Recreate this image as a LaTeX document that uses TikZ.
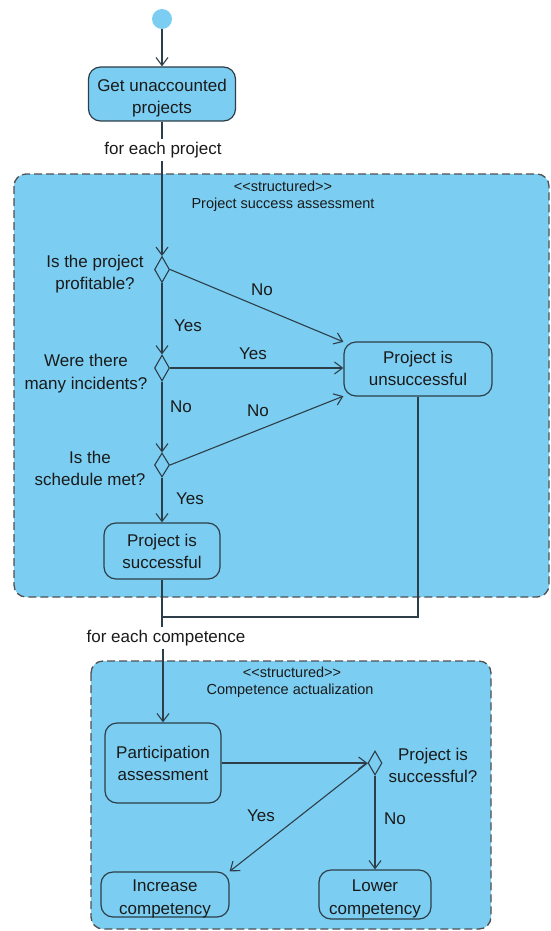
\documentclass[tikz,border=0pt]{standalone}
\usepackage{fontspec}
\setmainfont{Liberation Sans}
\usetikzlibrary{arrows.meta,shapes.geometric}
\definecolor{fillblue}{HTML}{7BCEF2}
\definecolor{ink}{HTML}{2E3E48}
\definecolor{dashc}{HTML}{505050}
\definecolor{txt}{HTML}{1A1A1A}
\newcommand\fsA{\fontsize{17}{22.5}\selectfont}
\newcommand\fsB{\fontsize{14.5}{19}\selectfont}
\newcommand\tb[2][0pt]{\raisebox{#1}[\height][\depth]{\begin{tabular}{@{}c@{}}#2\end{tabular}}}
\begin{document}
\begin{tikzpicture}[x=1pt,y=-1pt,
  act/.style={draw=ink, fill=fillblue, rounded corners=12pt, line width=1.2pt, inner sep=0pt, font=\fsA, text=txt},
  dec/.style={diamond, draw=ink, fill=fillblue, line width=1.1pt, minimum width=15pt, minimum height=26pt, inner sep=0pt},
  flow/.style={draw=ink, line width=1.1pt, -{Straight Barb[length=8pt,width=12pt]}},
  plain/.style={draw=ink, line width=1.1pt},
  lbl/.style={font=\fsA, text=txt, inner sep=1pt, align=center},
  stereo/.style={font=\fsB, text=txt, inner sep=1pt, align=center},
  region/.style={draw=dashc, fill=fillblue, dash pattern=on 8pt off 4pt, rounded corners=12pt, line width=1.3pt}
]
\useasboundingbox (0,0) rectangle (550,931);
% regions
\draw[region] (14,174) rectangle (549,597);
\draw[region] (91,661) rectangle (491,929);
\node[stereo] (st1) at (283,186) {<{}<structured>{}>};
\node[stereo] (rt1) at (283,205) {Project success assessment};
\node[stereo] (st2) at (292,672) {<{}<structured>{}>};
\node[stereo] (rt2) at (290,691) {Competence actualization};
% start
\node[circle, fill=fillblue, minimum size=20pt, inner sep=0pt] (start) at (162,19) {};
% activities
\node[act, minimum width=147pt, minimum height=54pt] (get) at (162,94) {\tb[-4pt]{Get unaccounted\\projects}};
\node[act, minimum width=148pt, minimum height=54pt] (unsucc) at (418,369) {\tb[-1pt]{Project is\\unsuccessful}};
\node[act, minimum width=116pt, minimum height=56pt] (succ) at (162,551) {\tb[-2pt]{Project is\\successful}};
\node[act, minimum width=116pt, minimum height=80pt] (part) at (163,763) {\tb[-2pt]{Participation\\assessment}};
\node[act, minimum width=128pt, minimum height=45pt] (inc) at (165,894.5) {\tb[-4pt]{Increase\\competency}};
\node[act, minimum width=112pt, minimum height=49pt] (lower) at (375,894.5) {\tb[-4pt]{Lower\\competency}};
% decisions
\node[dec] (d1) at (162,269.5) {};
\node[dec] (d2) at (162,368) {};
\node[dec, minimum height=24pt] (d3) at (162,465) {};
\node[dec, minimum width=14pt, minimum height=24pt] (d4) at (375,763) {};
% guard / loop texts
\node[lbl, inner sep=3pt] (fe1) at (163,150) {for each project};
\node[lbl, inner sep=3pt] (fe2) at (166,638) {for each competence};
\node[lbl] (q1) at (95,274) {Is the project\\profitable?};
\node[lbl] (q2) at (86,373.5) {Were there\\many incidents?};
\node[lbl] (q3) at (90,468.5) {Is the\\schedule met?};
\node[lbl] (q4) at (433,765.5) {Project is\\successful?};
\node[lbl] (l1) at (262,289.5) {No};
\node[lbl] (l2) at (188,325.5) {Yes};
\node[lbl] (l3) at (253,353.5) {Yes};
\node[lbl] (l4) at (181,406.5) {No};
\node[lbl] (l5) at (258,410.5) {No};
\node[lbl] (l6) at (190,498.5) {Yes};
\node[lbl] (l7) at (261,815.5) {Yes};
\node[lbl] (l8) at (395,818.5) {No};
% connectors
\draw[flow] (start) -- (get.north);
\draw[plain] (get.south) -- (get.south |- fe1.north);
\draw[flow] (fe1.south -| get.south) -- (d1.north);
\draw[flow] (d1.east) -- (unsucc.160);
\draw[flow] (d2.east) -- (unsucc.west |- d2.east);
\draw[flow] (d3.east) -- (unsucc.200);
\draw[flow] (d1.south) -- (d2.north);
\draw[flow] (d2.south) -- (d3.north);
\draw[flow] (d3.south) -- (succ.north);
\coordinate (m) at (162,617);
\draw[plain] (succ.south) -- (m) -- (m |- fe2.north);
\draw[plain] (unsucc.south) |- (m);
\draw[flow] (fe2.south -| part.north) -- (part.north);
\draw[flow] (part.east) -- (d4.west);
\draw[flow] (d4.west) -- (inc.north east);
\draw[flow] (d4.south) -- (lower.north);
\end{tikzpicture}
\end{document}
